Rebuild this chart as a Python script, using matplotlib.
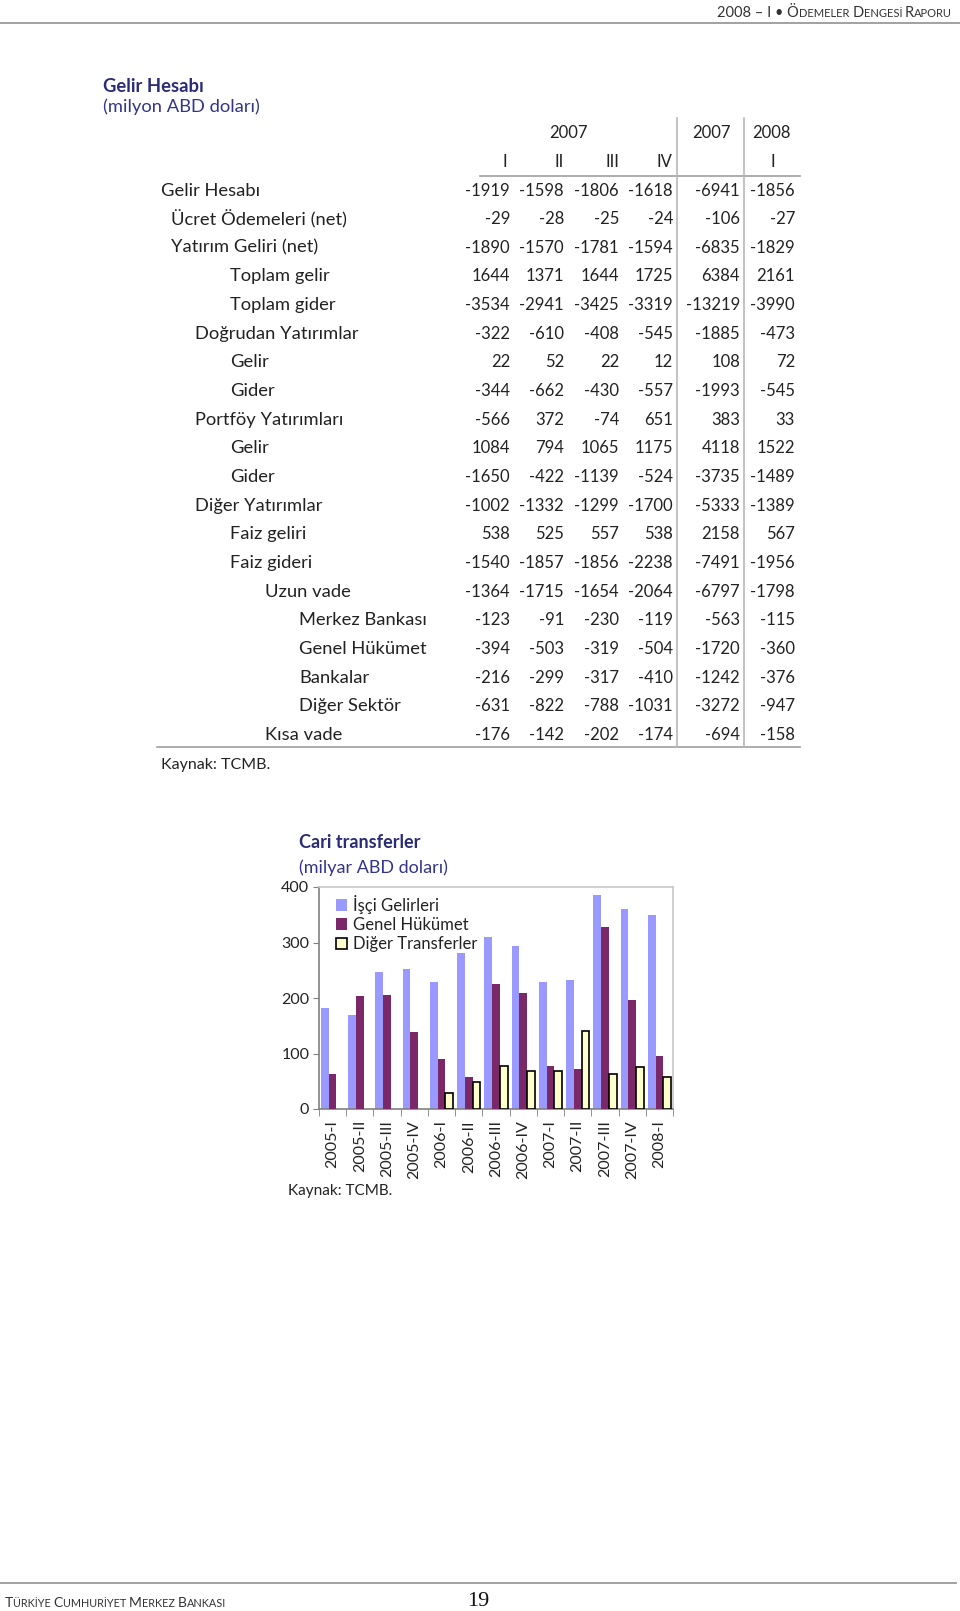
import matplotlib
matplotlib.use("Agg")
import matplotlib.pyplot as plt
from matplotlib.lines import Line2D
import numpy as np

W, H = 960, 1611
FONT = "Lato"

# ---------------- table data ----------------
row_labels = ["Gelir Hesabı", "Ücret Ödemeleri (net)", "Yatırım Geliri (net)",
              "Toplam gelir", "Toplam gider", "Doğrudan Yatırımlar", "Gelir", "Gider",
              "Portföy Yatırımları", "Gelir", "Gider", "Diğer Yatırımlar",
              "Faiz geliri", "Faiz gideri", "Uzun vade", "Merkez Bankası",
              "Genel Hükümet", "Bankalar", "Diğer Sektör", "Kısa vade"]
row_levels = [0, 1, 1, 3, 3, 2, 3, 3, 2, 3, 3, 2, 3, 3, 4, 5, 5, 5, 5, 4]
q1_2007 = [-1919, -29, -1890, 1644, -3534, -322, 22, -344, -566, 1084, -1650, -1002, 538, -1540, -1364, -123, -394, -216, -631, -176]
q2_2007 = [-1598, -28, -1570, 1371, -2941, -610, 52, -662, 372, 794, -422, -1332, 525, -1857, -1715, -91, -503, -299, -822, -142]
q3_2007 = [-1806, -25, -1781, 1644, -3425, -408, 22, -430, -74, 1065, -1139, -1299, 557, -1856, -1654, -230, -319, -317, -788, -202]
q4_2007 = [-1618, -24, -1594, 1725, -3319, -545, 12, -557, 651, 1175, -524, -1700, 538, -2238, -2064, -119, -504, -410, -1031, -174]
year_2007 = [-6941, -106, -6835, 6384, -13219, -1885, 108, -1993, 383, 4118, -3735, -5333, 2158, -7491, -6797, -563, -1720, -1242, -3272, -694]
q1_2008 = [-1856, -27, -1829, 2161, -3990, -473, 72, -545, 33, 1522, -1489, -1389, 567, -1956, -1798, -115, -360, -376, -947, -158]
col_quarters = ["I", "II", "III", "IV", "", "I"]

# ---------------- chart data ----------------
periods = ["2005-I", "2005-II", "2005-III", "2005-IV", "2006-I", "2006-II", "2006-III",
           "2006-IV", "2007-I", "2007-II", "2007-III", "2007-IV", "2008-I"]
isci_gelirleri = [182, 170, 247, 253, 228, 281, 310, 293, 228, 233, 386, 361, 349]
genel_hukumet = [63, 203, 206, 138, 90, 58, 226, 209, 78, 72, 328, 197, 95]
diger_transferler = [0, 0, 0, 0, 29, 49, 78, 69, 69, 140, 63, 75, 58]

fig = plt.figure(figsize=(W / 100, H / 100), dpi=100)
fig.patch.set_facecolor("white")


def fx(x):
    return x / W


def fy(y):
    return 1 - y / H


def txt(x, y, s, **kw):
    kw.setdefault("family", FONT)
    kw.setdefault("color", "#222222")
    return fig.text(fx(x), fy(y), s, **kw)


def hline(x0, x1, y, color="#a0a0a0", lw=1.2):
    fig.add_artist(Line2D([fx(x0), fx(x1)], [fy(y), fy(y)], color=color, lw=lw,
                          transform=fig.transFigure))


def vline(x, y0, y1, color="#b8b8b8", lw=1.2):
    fig.add_artist(Line2D([fx(x), fx(x)], [fy(y0), fy(y1)], color=color, lw=lw,
                          transform=fig.transFigure))


renderer = fig.canvas.get_renderer()


def small_caps(x, y, pieces, big, small, align="left", color="#333333", family=FONT):
    arts = []
    cur = x
    for s, isbig in pieces:
        t = fig.text(fx(cur), fy(y), s, fontsize=big if isbig else small,
                     family=family, color=color, va="baseline", ha="left")
        bb = t.get_window_extent(renderer=renderer)
        cur += bb.width
        arts.append(t)
    if align == "right":
        shift = cur - x
        for t in arts:
            px, py = t.get_position()
            t.set_position((px - fx(shift), py))
    return arts


# ---------------- header / footer ----------------
small_caps(952, 17, [("2008 – I • Ö", True), ("DEMELER ", False), ("D", True),
                     ("ENGESİ ", False), ("R", True), ("APORU", False)],
           10.5, 8, align="right")
hline(0, 960, 23, color="#9a9a9a", lw=1.3)
hline(0, 956, 1583, color="#9a9a9a", lw=1.3)
small_caps(5, 1607, [("T", True), ("ÜRKİYE ", False), ("C", True), ("UMHURİYET ", False),
                     ("M", True), ("ERKEZ ", False), ("B", True), ("ANKASI", False)],
           10, 7.8)
txt(478, 1601, "19", family="Liberation Serif", fontsize=16, ha="center", va="center",
    color="#111111")

# ---------------- table ----------------
NAVY = "#2b2b78"
txt(103, 87, "Gelir Hesabı", fontsize=13.2, fontweight="bold", color=NAVY, va="center")
txt(103, 107, "(milyon ABD doları)", fontsize=13.2, color="#34348a", va="center")

col_right = [510, 564, 619, 673, 740, 795]
col_center = [505, 559, 612, 664, None, 773]
indent_x = [161, 171, 195, 230, 265, 299]
row_y0 = 190.5
row_step = 28.65
TFS = 12
LFS = 13.2

txt(568, 133, "2007", fontsize=TFS, ha="center", va="center")
txt(731, 133, "2007", fontsize=TFS, ha="right", va="center")
txt(791, 133, "2008", fontsize=TFS, ha="right", va="center")
for cx, q in zip(col_center, col_quarters):
    if cx is not None and q:
        txt(cx, 162, q, fontsize=TFS, ha="center", va="center")

columns = [q1_2007, q2_2007, q3_2007, q4_2007, year_2007, q1_2008]
for i, (lab, lev) in enumerate(zip(row_labels, row_levels)):
    y = row_y0 + i * row_step
    txt(indent_x[lev], y, lab, fontsize=LFS, ha="left", va="center")
    for cr, col in zip(col_right, columns):
        txt(cr, y, str(col[i]), fontsize=TFS, ha="right", va="center")

hline(480, 800, 176)
hline(157, 800, 747)
vline(677, 118, 747)
vline(744, 118, 747)
txt(161, 765, "Kaynak: TCMB.", fontsize=11.5, va="center")

# ---------------- chart ----------------
AX_L, AX_R, AX_T, AX_B = 319, 673, 887, 1109
ax = fig.add_axes([fx(AX_L), fy(AX_B), (AX_R - AX_L) / W, (AX_B - AX_T) / H])
x = np.arange(len(periods))
bw = 0.285
ax.bar(x - bw, isci_gelirleri, bw, color="#9999ff", edgecolor="none", label="İşçi Gelirleri", zorder=2)
ax.bar(x, genel_hukumet, bw, color="#7b2869", edgecolor="none", label="Genel Hükümet", zorder=3)
diger_edges = ["black" if v > 0 else "none" for v in diger_transferler]
ax.bar(x + bw, diger_transferler, bw, color="#ffffcc", edgecolor=diger_edges, linewidth=1.2,
       zorder=3)
ax.bar([np.nan], [np.nan], bw, color="#ffffcc", edgecolor="black", linewidth=1.2,
       label="Diğer Transferler")
ax.set_xlim(-0.5, len(periods) - 0.5)
ax.set_ylim(0, 400)
ax.set_yticks([0, 100, 200, 300, 400])
ax.set_yticklabels(["0", "100", "200", "300", "400"], family=FONT, fontsize=11.5, color="#222222")
ax.set_xticks(x)
ax.set_xticklabels(periods, rotation=90, family=FONT, fontsize=11.5, color="#222222")
ax.set_xticks(np.arange(-0.5, len(periods), 1), minor=True)
ax.tick_params(axis="x", which="major", length=0, pad=8)
ax.tick_params(axis="x", which="minor", length=5, color="#808080", direction="out")
ax.tick_params(axis="y", length=4, color="#808080", direction="out", pad=3)
for s in ["top", "right"]:
    ax.spines[s].set_color("#c8c8c8")
    ax.spines[s].set_linewidth(1.2)
for s in ["left", "bottom"]:
    ax.spines[s].set_color("#808080")
    ax.spines[s].set_linewidth(1.2)
leg = ax.legend(loc="upper left", bbox_to_anchor=(0.028, 0.995), frameon=False,
                prop={"family": FONT, "size": 12}, handlelength=0.7, handleheight=0.7,
                handletextpad=0.35, labelspacing=0.2, borderaxespad=0.0)
for t in leg.get_texts():
    t.set_color("#222222")

txt(299, 842, "Cari transferler", fontsize=13, fontweight="bold", color=NAVY, va="center")
txt(299, 868, "(milyar ABD doları)", fontsize=13, color="#34348a", va="center")
txt(288, 1191, "Kaynak: TCMB.", fontsize=11, va="center")

fig.savefig("out.png", dpi=100, facecolor="white")
